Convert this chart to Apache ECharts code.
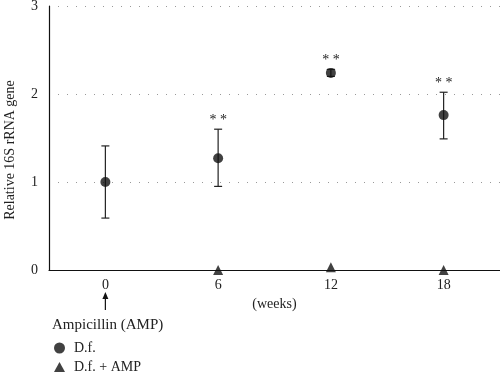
<!DOCTYPE html>
<html><head><meta charset="utf-8">
<script src="https://cdn.jsdelivr.net/npm/echarts@6/dist/echarts.min.js"></script>
<style>html,body{margin:0;padding:0;background:#fff}#c{width:500px;height:373px}</style>
</head><body><div id="c"></div>
<script>
var weeks = ['0', '6', '12', '18'];
var dfMean = [1.0, 1.27, 2.24, 1.76];
var dfLow = [0.59, 0.95, 2.20, 1.49];
var dfHigh = [1.41, 1.60, 2.28, 2.02];
var dfSig = ['', '**', '**', '**'];
var ampMean = [null, 0.0, 0.03, 0.0];
var yTicks = [0, 1, 2, 3];

var FONT = 'Liberation Serif';
var chart = echarts.init(document.getElementById('c'));
var errData = weeks.map(function (w, i) { return [i, dfLow[i], dfHigh[i], dfSig[i]]; });
var legTxt = { fontFamily: FONT, fontSize: 14, color: '#222', padding: [0, 0, 0, 4] };

chart.setOption({
  animation: false,
  textStyle: { fontFamily: FONT, color: '#222' },
  grid: { left: 49, right: 0, top: 6, bottom: 103, containLabel: false, outerBoundsMode: 'none' },
  xAxis: {
    type: 'category', data: weeks, boundaryGap: true,
    axisLine: { lineStyle: { color: '#111', width: 1.2 } },
    axisTick: { show: false },
    axisLabel: { fontFamily: FONT, fontSize: 14, color: '#222', margin: 8 },
    name: '(weeks)', nameLocation: 'middle', nameGap: 23,
    nameTextStyle: { fontFamily: FONT, fontSize: 14, color: '#222' }
  },
  yAxis: {
    type: 'value', min: yTicks[0], max: yTicks[yTicks.length - 1], interval: 1,
    axisLine: { show: true, lineStyle: { color: '#111', width: 1.2 } },
    axisTick: { show: false },
    axisLabel: { fontFamily: FONT, fontSize: 14, color: '#222', margin: 11 },
    splitLine: { show: true, lineStyle: { color: '#999', type: [1, 8], width: 1 } },
    name: 'Relative 16S rRNA gene', nameLocation: 'middle', nameGap: 32,
    nameTextStyle: { fontFamily: FONT, fontSize: 14, color: '#222', padding: [0, 24, 0, 0] }
  },
  legend: [
    {
      left: 54, top: 341, itemWidth: 11, itemHeight: 11, padding: 0, textStyle: legTxt,
      data: [{ name: 'D.f.', icon: 'circle' }]
    },
    {
      left: 54, top: 360, itemWidth: 11, itemHeight: 10, padding: 0, textStyle: legTxt,
      data: [{ name: 'D.f. + AMP', icon: 'triangle' }]
    }
  ],
  series: [
    {
      type: 'custom', name: 'err', silent: true, z: 2,
      renderItem: function (params, api) {
        var x = api.value(0);
        var lo = api.coord([x, api.value(1)]);
        var hi = api.coord([x, api.value(2)]);
        var cap = 4;
        var st = { stroke: '#222', lineWidth: 1.2 };
        var children = [
          { type: 'line', shape: { x1: lo[0], y1: lo[1], x2: hi[0], y2: hi[1] }, style: st },
          { type: 'line', shape: { x1: lo[0] - cap, y1: lo[1], x2: lo[0] + cap, y2: lo[1] }, style: st },
          { type: 'line', shape: { x1: hi[0] - cap, y1: hi[1], x2: hi[0] + cap, y2: hi[1] }, style: st }
        ];
        var sig = api.value(3);
        if (sig) {
          children.push({ type: 'text', style: { text: sig.split('').join(' '), x: hi[0], y: hi[1] - 2, align: 'center', verticalAlign: 'bottom', font: '14px ' + FONT, fill: '#222' } });
        }
        return { type: 'group', children: children };
      },
      encode: { x: 0, y: [1, 2] },
      data: errData
    },
    {
      type: 'scatter', name: 'D.f.', symbol: 'circle', symbolSize: 10, z: 3,
      itemStyle: { color: '#111' }, data: dfMean
    },
    {
      type: 'scatter', name: 'D.f. + AMP', symbol: 'triangle', symbolSize: 10, z: 3,
      itemStyle: { color: '#111' }, data: ampMean
    }
  ]
});

// Ampicillin arrow annotation under week 0
var p = chart.convertToPixel({ xAxisIndex: 0, yAxisIndex: 0 }, [0, 0]);
chart.setOption({
  graphic: [
    { type: 'line', shape: { x1: p[0], y1: p[1] + 40, x2: p[0], y2: p[1] + 27 }, style: { stroke: '#111', lineWidth: 1.2 } },
    { type: 'polygon', shape: { points: [[p[0], p[1] + 22], [p[0] - 3, p[1] + 29], [p[0] + 3, p[1] + 29]] }, style: { fill: '#111' } },
    { type: 'text', style: { text: 'Ampicillin (AMP)', x: 52, y: p[1] + 55, verticalAlign: 'middle', font: '15px ' + FONT, fill: '#222' } }
  ]
});
</script></body></html>
